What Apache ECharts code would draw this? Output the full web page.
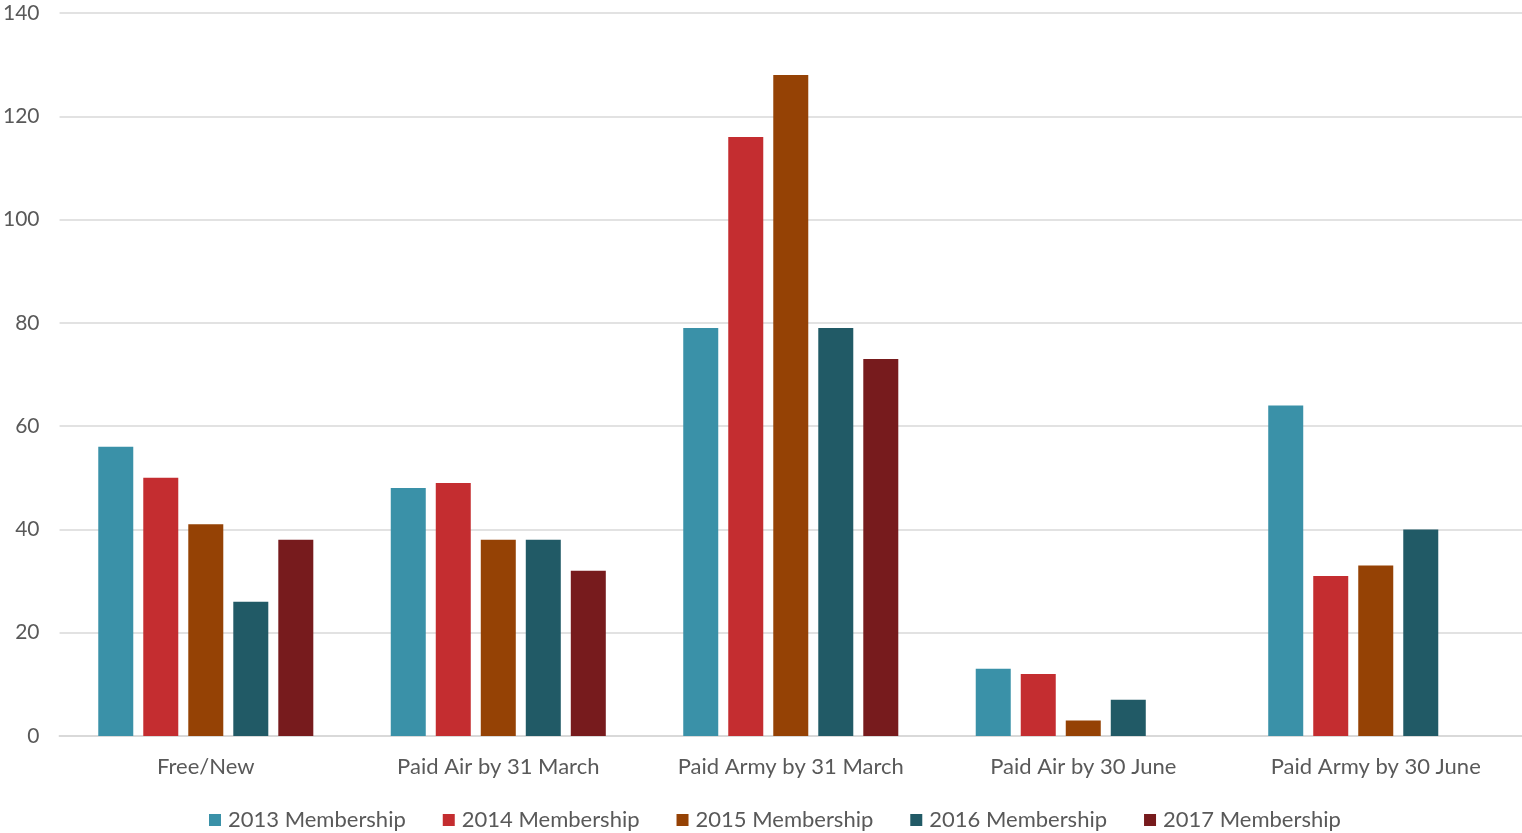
<!DOCTYPE html>
<html><head><meta charset="utf-8">
<script src="https://cdn.jsdelivr.net/npm/echarts@6/dist/echarts.min.js"></script>
<style>html,body{margin:0;padding:0;background:#fff}#c{width:1522px;height:833px}</style>
</head><body><div id="c"></div>
<script>
const categories = ['Free/New','Paid Air by 31 March','Paid Army by 31 March','Paid Air by 30 June','Paid Army by 30 June'];
const yTicks = [0,20,40,60,80,100,120,140];
const s2013 = [56,48,79,13,64];
const s2014 = [50,49,116,12,31];
const s2015 = [41,38,128,3,33];
const s2016 = [26,38,79,7,40];
const s2017 = [38,32,73,null,null];
const seriesNames = ['2013 Membership','2014 Membership','2015 Membership','2016 Membership','2017 Membership'];
const seriesData = [s2013,s2014,s2015,s2016,s2017];
const colors = ['#3A91A8','#C42D30','#954205','#215A66','#771B1D'];
const font = 'Lato, "Open Sans", sans-serif';
const chart = echarts.init(document.getElementById('c'));
chart.setOption({
  animation:false,
  color: colors,
  grid:{left:58,right:0,top:13,bottom:97,containLabel:false},
  legend:{
    top:809,left:209,itemWidth:12,itemHeight:12,itemGap:37,icon:'rect',padding:0,
    textStyle:{color:'#595959',fontSize:22,fontFamily:font,padding:[0,0,0,2]},
    data:seriesNames
  },
  xAxis:{
    type:'category',data:categories,
    axisLine:{lineStyle:{color:'#D9D9D9',width:2}},
    axisTick:{show:false},
    axisLabel:{color:'#595959',fontSize:22,fontFamily:font,margin:20,interval:0}
  },
  yAxis:{
    type:'value',min:0,max:140,interval:20,
    axisLine:{show:false},axisTick:{show:false},
    splitLine:{lineStyle:{color:'#D9D9D9',width:1.5}},
    axisLabel:{color:'#595959',fontSize:21,fontFamily:font,margin:20,
      formatter:v=>yTicks.includes(v)?String(v):''}
  },
  series: seriesNames.map((n,i)=>({
    name:n,type:'bar',data:seriesData[i],
    barWidth:35,barGap:'28.6%',barCategoryGap:'26.6%',
    itemStyle:{color:colors[i]}
  }))
});
</script></body></html>
